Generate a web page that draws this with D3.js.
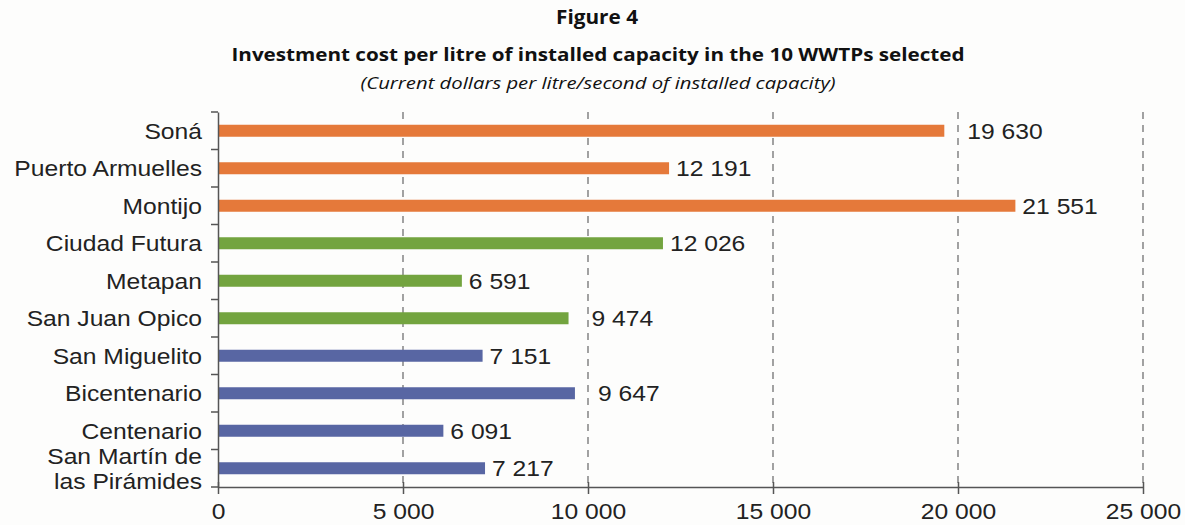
<!DOCTYPE html>
<html><head><meta charset="utf-8">
<script src="https://cdn.jsdelivr.net/npm/d3@7"></script>
<style>
body{margin:0;background:#fdfdfc;}
svg{display:block;}
</style></head>
<body>
<svg id="chart" width="1185" height="525"></svg>
<script>
const categories = ["Soná","Puerto Armuelles","Montijo","Ciudad Futura","Metapan","San Juan Opico","San Miguelito","Bicentenario","Centenario","San Martín de las Pirámides"];
const values = [19630,12191,21551,12026,6591,9474,7151,9647,6091,7217];
const groups = ["orange","orange","orange","green","green","green","blue","blue","blue","blue"];
const colorMap = {orange:"#e5793a", green:"#73a43f", blue:"#5866a3"};
const xTicks = [0,5000,10000,15000,20000,25000];
const titleLines = ["Figure 4","Investment cost per litre of installed capacity in the 10 WWTPs selected","(Current dollars per litre/second of installed capacity)"];

(function(){
const svg = d3.select("#chart");
svg.append("rect").attr("width",1185).attr("height",525).attr("fill","#fdfdfc");

const pL=218, pR=1143, pT=112, pB=487;
const x = d3.scaleLinear().domain([0,25000]).range([pL,pR]);
const y = d3.scaleBand().domain(categories).range([pT,pB]);
const fmt = v => d3.format(",")(v).replace(/,/g," ");
const lf = "'Liberation Sans', Arial, sans-serif";
const stretch = 1.12;
const widen = sel => sel.each(function(){
  const w = this.getComputedTextLength();
  d3.select(this).attr("textLength", w*stretch).attr("lengthAdjust","spacingAndGlyphs");
});

// title
const tf = "'Open Sans', 'Lato', sans-serif";
svg.append("text").attr("x",597).attr("y",24).attr("text-anchor","middle")
  .attr("font-family",tf).attr("font-weight","bold").attr("font-size",19).attr("fill","#111")
  .attr("textLength",82).attr("lengthAdjust","spacingAndGlyphs").text(titleLines[0]);
svg.append("text").attr("x",598).attr("y",61).attr("text-anchor","middle")
  .attr("font-family",tf).attr("font-weight","bold").attr("font-size",18).attr("fill","#111")
  .attr("textLength",733).attr("lengthAdjust","spacingAndGlyphs").text(titleLines[1]);
svg.append("text").attr("x",598).attr("y",89).attr("text-anchor","middle")
  .attr("font-family",tf).attr("font-style","italic").attr("font-size",17).attr("fill","#111")
  .attr("textLength",475).attr("lengthAdjust","spacingAndGlyphs").text(titleLines[2]);

// gridlines
svg.append("g").selectAll("line").data(xTicks.slice(1)).join("line")
  .attr("x1",d=>x(d)).attr("x2",d=>x(d)).attr("y1",pT).attr("y2",pB)
  .attr("stroke","#666").attr("stroke-width",1.2).attr("stroke-dasharray","7,6");

// bars
const bh = 12;
svg.append("g").selectAll("rect").data(categories).join("rect")
  .attr("x",x(0)+1).attr("y",(d,i)=>y(d)+y.bandwidth()/2-bh/2)
  .attr("width",(d,i)=>x(values[i])-x(0)-1).attr("height",bh)
  .attr("fill",(d,i)=>colorMap[groups[i]]);

// value labels (skip past a gridline right after the bar end)
const labelX = v => {
  const e = x(v);
  const hit = xTicks.some(t => x(t) > e && x(t) - e < 20);
  return hit ? e + 23 : e + 7;
};
svg.append("g").selectAll("text").data(categories).join("text")
  .attr("x",(d,i)=>labelX(values[i])).attr("y",(d,i)=>y(d)+y.bandwidth()/2+8)
  .attr("font-family",lf).attr("font-size",22).attr("fill","#222")
  .text((d,i)=>fmt(values[i]))
  .call(widen);

// x axis
const xAxis = d3.axisBottom(x).tickValues(xTicks).tickFormat(fmt).tickSize(7).tickSizeOuter(0);
const gx = svg.append("g").attr("transform",`translate(0,${pB})`).call(xAxis);
gx.select(".domain").attr("stroke","#555").attr("stroke-width",1.5);
gx.selectAll(".tick line").attr("stroke","#555").attr("stroke-width",1.5).attr("y1",-5);
gx.selectAll(".tick text").attr("font-family",lf).attr("font-size",22).attr("fill","#222").attr("dy","0.98em").call(widen);

// y axis
const yAxis = d3.axisLeft(y).tickValues([]).tickSizeOuter(0);
const gy = svg.append("g").attr("transform",`translate(${pL},0)`).call(yAxis);
gy.select(".domain").attr("stroke","#555").attr("stroke-width",1.5);
const bounds = categories.map(c=>y(c)).concat([pB]);
gy.selectAll(".btick").data(bounds).join("line").attr("class","btick")
  .attr("x1",-7).attr("x2",0).attr("y1",d=>d).attr("y2",d=>d).attr("stroke","#555").attr("stroke-width",1.5);

// category labels
const lab = svg.append("g").attr("font-family",lf).attr("font-size",22).attr("fill","#222").attr("text-anchor","end");
categories.forEach((c,i)=>{
  const cy = y(c)+y.bandwidth()/2;
  if(c==="San Martín de las Pirámides"){
    lab.append("text").attr("x",202).attr("y",cy-4).text("San Martín de");
    lab.append("text").attr("x",202).attr("y",cy+21).text("las Pirámides");
  } else {
    lab.append("text").attr("x",202).attr("y",cy+8).text(c);
  }
});
lab.selectAll("text").call(widen);
})();
</script>
</body></html>
